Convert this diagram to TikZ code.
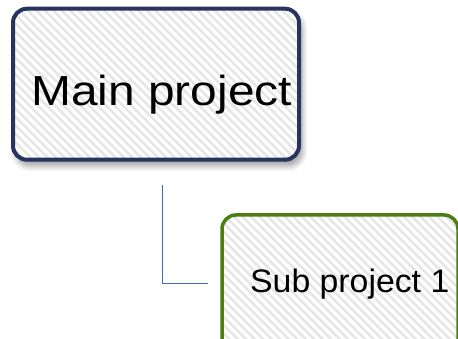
\documentclass[tikz,border=0pt]{standalone}
\usepackage{fontspec}
\setmainfont{Liberation Sans}
\usetikzlibrary{patterns.meta,shadows.blur}
\definecolor{navy}{HTML}{27345F}
\definecolor{leaf}{HTML}{4A7E12}
\definecolor{conn}{HTML}{3F6DB5}
\definecolor{stripe}{HTML}{E6E6E6}
\tikzset{
  boxstyle/.style={rounded corners=14pt, inner sep=0pt,
    preaction={fill=white},
    pattern={Lines[angle=-45,distance=6pt,line width=2.6pt]},
    pattern color=stripe},
  mainbox/.style={blur shadow={shadow xshift=3pt, shadow yshift=-6pt, shadow blur radius=6pt, shadow blur steps=10, shadow opacity=40},
    boxstyle, draw=navy, line width=4pt,
    minimum width=286pt, minimum height=151pt},
  subbox/.style={boxstyle, draw=leaf, line width=3.5pt,
    minimum width=236pt, minimum height=160pt},
  connector/.style={draw=conn, line width=0.8pt}
}
\begin{document}
\begin{tikzpicture}[x=1pt,y=-1pt]
\useasboundingbox (0,0) rectangle (458,339);
\node[mainbox] (main) at (156,84.2) {};
\node[subbox] (sub) at (340,295) {};
\node[anchor=base west, inner sep=0pt, font=\fontsize{42}{46}\selectfont] (maintext) at (31,106) {\scalebox{1.14}[1]{Main project}};
\node[anchor=base west, inner sep=0pt, font=\fontsize{32.5}{36}\selectfont] (subtext) at (250,293) {\scalebox{1.04}[1]{Sub project 1}};
\coordinate (c1) at (162,185);
\coordinate (c2) at (208,283);
\draw[connector] (c1) |- (c2);
\end{tikzpicture}
\end{document}
